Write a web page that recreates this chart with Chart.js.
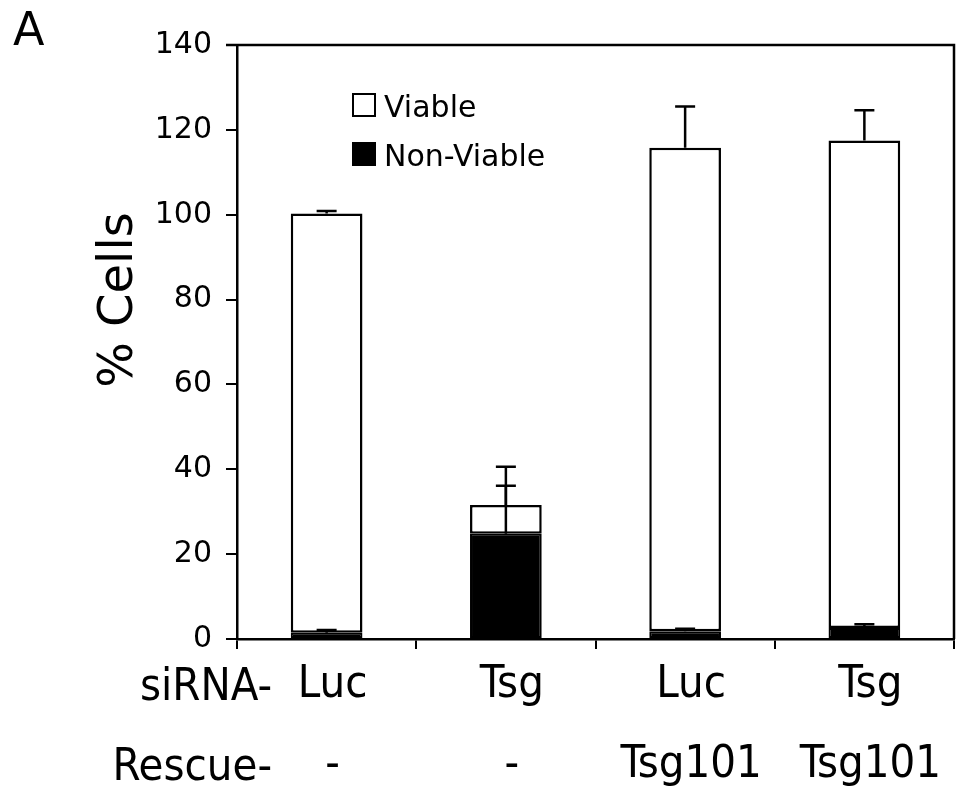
<!DOCTYPE html>
<html>
<head>
<meta charset="utf-8">
<script src="https://cdn.jsdelivr.net/npm/chart.js@4.4.0/dist/chart.umd.min.js"></script>
<style>
  html, body { margin: 0; padding: 0; background: #fff; }
</style>
</head>
<body>
<canvas id="chart" width="958" height="794"></canvas>
<script>
// values
const sirna = ['Luc', 'Tsg', 'Luc', 'Tsg'];
const rescue = ['-', '-', 'Tsg101', 'Tsg101'];
const nonViable = [1.5, 24.8, 1.8, 2.6];
const nonViableErr = [0.6, 11.3, 0.6, 0.9];
const viable = [98.8, 6.8, 114.0, 114.9];
const viableErr = [0.6, 9.0, 9.7, 7.1];
const yTicks = [0, 20, 40, 60, 80, 100, 120, 140];

const labelFont = "'Liberation Sans Narrow', 'DejaVu Sans Condensed', sans-serif";

// error bars drawn on top of each stacked segment
const errorBars = {
    id: 'errorBars',
    afterDatasetsDraw(chart) {
        const ctx = chart.ctx;
        const y = chart.scales.y;
        const errs = [nonViableErr, viableErr];
        ctx.save();
        ctx.strokeStyle = '#000';
        ctx.lineWidth = 2.5;
        chart.data.datasets.forEach((ds, di) => {
            const meta = chart.getDatasetMeta(di);
            meta.data.forEach((bar, i) => {
                const top = y.getValueForPixel(bar.y);
                const yEnd = y.getPixelForValue(top + errs[di][i]);
                ctx.beginPath();
                ctx.moveTo(bar.x, bar.y);
                ctx.lineTo(bar.x, yEnd);
                ctx.moveTo(bar.x - 10, yEnd);
                ctx.lineTo(bar.x + 10, yEnd);
                ctx.stroke();
            });
        });
        ctx.restore();
    }
};

// frame, legend, titles and row prefixes
const decorations = {
    id: 'decorations',
    afterDraw(chart) {
        const ctx = chart.ctx;
        const a = chart.chartArea;
        ctx.save();
        ctx.strokeStyle = '#000';
        ctx.lineWidth = 2.5;
        ctx.beginPath();
        ctx.moveTo(a.left - 11, a.top);
        ctx.lineTo(a.right, a.top);
        ctx.lineTo(a.right, a.bottom);
        ctx.stroke();

        // legend (viable listed first)
        const order = [1, 0];
        ctx.font = "30px 'DejaVu Sans'";
        ctx.textBaseline = 'alphabetic';
        ctx.textAlign = 'left';
        order.forEach((di, k) => {
            const ds = chart.data.datasets[di];
            const bx = a.left + 115, by = a.top + 48 + k * 49;
            ctx.fillStyle = ds.backgroundColor;
            ctx.fillRect(bx, by, 24, 24);
            ctx.lineWidth = 2;
            ctx.strokeRect(bx + 1, by + 1, 22, 22);
            ctx.fillStyle = '#000';
            ctx.fillText(ds.label, bx + 32, by + 24);
        });

        // y title
        ctx.font = "48px 'DejaVu Sans'";
        ctx.save();
        ctx.translate(132, 300);
        ctx.rotate(-Math.PI / 2);
        ctx.textAlign = 'center';
        ctx.fillText('% Cells', 0, 0);
        ctx.restore();

        // panel letter
        ctx.font = "46px 'DejaVu Sans'";
        ctx.textAlign = 'left';
        ctx.fillText('A', 13, 45);

        // row prefixes
        ctx.font = '45px ' + labelFont;
        ctx.textAlign = 'right';
        ctx.fillText('siRNA-', a.left + 35, 700);
        ctx.fillText('Rescue-', a.left + 35, 780);
        ctx.restore();
    }
};

new Chart(document.getElementById('chart'), {
    type: 'bar',
    data: {
        labels: sirna.map((s, i) => [s, rescue[i]]),
        datasets: [
            {
                label: 'Non-Viable',
                data: nonViable,
                backgroundColor: '#000',
                borderColor: '#000',
                borderWidth: 2,
                borderSkipped: false,
                barPercentage: 0.4,
                categoryPercentage: 1
            },
            {
                label: 'Viable',
                data: viable,
                backgroundColor: '#fff',
                borderColor: '#000',
                borderWidth: 2.5,
                borderSkipped: false,
                barPercentage: 0.4,
                categoryPercentage: 1
            }
        ]
    },
    options: {
        responsive: false,
        animation: false,
        devicePixelRatio: 1,
        layout: { padding: { top: 45, right: 4, left: 0, bottom: 0 } },
        plugins: {
            legend: { display: false },
            tooltip: { enabled: false }
        },
        scales: {
            x: {
                stacked: true,
                border: { color: '#000', width: 2.5 },
                grid: {
                    offset: true,
                    drawOnChartArea: false,
                    drawTicks: true,
                    tickLength: 10,
                    color: '#000',
                    lineWidth: 2
                },
                ticks: {
                    color: '#000',
                    padding: -4,
                    labelOffset: 6,
                    maxRotation: 0,
                    font: { family: labelFont, size: 45, lineHeight: 1.78 }
                },
                afterFit(scale) { scale.height = 155; }
            },
            y: {
                stacked: true,
                min: 0,
                max: 140,
                afterBuildTicks(scale) { scale.ticks = yTicks.map(v => ({ value: v })); },
                border: { color: '#000', width: 2.5 },
                grid: {
                    drawOnChartArea: false,
                    drawTicks: true,
                    tickLength: 11,
                    color: '#000',
                    lineWidth: 2
                },
                ticks: {
                    color: '#000',
                    padding: 14,
                    font: { family: 'DejaVu Sans', size: 30 }
                },
                afterFit(scale) { scale.width = 237; }
            }
        }
    },
    plugins: [errorBars, decorations]
});
</script>
</body>
</html>
